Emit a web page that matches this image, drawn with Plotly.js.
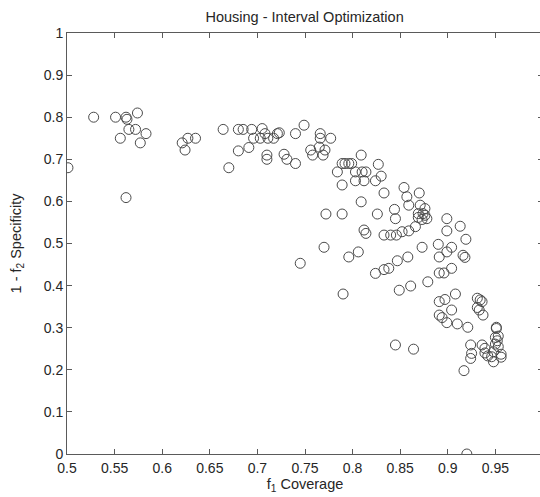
<!DOCTYPE html>
<html>
<head>
<meta charset="utf-8">
<script src="https://cdn.plot.ly/plotly-3.0.1.min.js"></script>
<style>
  html, body { margin: 0; padding: 0; overflow: hidden; background: #fff; }
  #chart { width: 548px; height: 497px; }
</style>
</head>
<body>
<div id="chart"></div>
<script>
// f1 coverage of each interval solution
const coverage = [
  0.501, 0.528, 0.551, 0.562, 0.563, 0.574, 0.556, 0.565, 0.572, 0.583,
  0.577, 0.562, 0.621, 0.627, 0.635, 0.624, 0.664, 0.670, 0.680, 0.680,
  0.685, 0.694, 0.691, 0.696, 0.703, 0.705, 0.708, 0.711, 0.717, 0.721,
  0.723, 0.710, 0.710, 0.728, 0.731, 0.740, 0.740, 0.749, 0.766, 0.766,
  0.777, 0.765, 0.756, 0.771, 0.758, 0.769,
  0.809, 0.827, 0.789, 0.792, 0.796, 0.799, 0.784, 0.803, 0.810, 0.814,
  0.830, 0.803, 0.812, 0.824, 0.789, 0.809, 0.833, 0.772, 0.789, 0.826,
  0.844, 0.845, 0.812, 0.814, 0.833, 0.840, 0.846, 0.854, 0.857, 0.870,
  0.859, 0.871, 0.876, 0.869, 0.874, 0.876, 0.878, 0.873, 0.869, 0.899,
  0.899, 0.866, 0.859, 0.852, 0.745, 0.770, 0.796, 0.806, 0.824, 0.833,
  0.838, 0.847, 0.858, 0.873, 0.890, 0.891, 0.899, 0.891, 0.896, 0.879,
  0.861, 0.849, 0.790,
  0.913, 0.919, 0.904, 0.916, 0.918, 0.904, 0.908, 0.891, 0.897, 0.904,
  0.891, 0.894, 0.899, 0.910, 0.921, 0.931, 0.934, 0.936, 0.931, 0.933,
  0.937, 0.951, 0.951, 0.950, 0.953, 0.952, 0.953, 0.950, 0.924, 0.936,
  0.939, 0.925, 0.924, 0.939, 0.942, 0.946, 0.948, 0.956, 0.956, 0.948,
  0.917, 0.845, 0.864, 0.920
];

// 1 - f2 specificity of the same solutions
const oneMinusSpecificity = [
  0.680, 0.800, 0.800, 0.800, 0.795, 0.810, 0.750, 0.771, 0.771, 0.761,
  0.739, 0.609, 0.739, 0.750, 0.750, 0.722, 0.771, 0.680, 0.720, 0.771,
  0.771, 0.771, 0.728, 0.750, 0.750, 0.773, 0.761, 0.750, 0.750, 0.761,
  0.763, 0.710, 0.700, 0.712, 0.700, 0.690, 0.761, 0.781, 0.761, 0.750,
  0.750, 0.729, 0.722, 0.722, 0.710, 0.710,
  0.710, 0.688, 0.690, 0.690, 0.690, 0.690, 0.670, 0.670, 0.670, 0.670,
  0.660, 0.649, 0.649, 0.649, 0.639, 0.599, 0.620, 0.570, 0.570, 0.570,
  0.581, 0.559, 0.532, 0.524, 0.520, 0.520, 0.520, 0.633, 0.611, 0.620,
  0.591, 0.591, 0.583, 0.571, 0.571, 0.567, 0.559, 0.557, 0.562, 0.559,
  0.530, 0.540, 0.530, 0.528, 0.453, 0.491, 0.468, 0.480, 0.429, 0.438,
  0.441, 0.459, 0.468, 0.491, 0.498, 0.468, 0.480, 0.430, 0.430, 0.409,
  0.399, 0.389, 0.380,
  0.541, 0.510, 0.491, 0.472, 0.467, 0.441, 0.380, 0.362, 0.367, 0.342,
  0.330, 0.324, 0.312, 0.309, 0.301, 0.370, 0.366, 0.362, 0.348, 0.342,
  0.330, 0.301, 0.298, 0.277, 0.280, 0.269, 0.255, 0.261, 0.259, 0.259,
  0.251, 0.239, 0.227, 0.240, 0.233, 0.231, 0.219, 0.237, 0.230, 0.243,
  0.198, 0.259, 0.249, 0.000
];

const xTicks = [0.5, 0.55, 0.6, 0.65, 0.7, 0.75, 0.8, 0.85, 0.9, 0.95];
const xTickText = ['0.5', '0.55', '0.6', '0.65', '0.7', '0.75', '0.8', '0.85', '0.9', '0.95'];
const yTicks = [0, 0.1, 0.2, 0.3, 0.4, 0.5, 0.6, 0.7, 0.8, 0.9, 1];
const yTickText = ['0', '0.1', '0.2', '0.3', '0.4', '0.5', '0.6', '0.7', '0.8', '0.9', '1'];

const textColor = '#262626';
const axisColor = '#5a5a5a';
const fontFamily = 'Liberation Sans, Arial, sans-serif';

const trace = {
  x: coverage,
  y: oneMinusSpecificity,
  type: 'scatter',
  mode: 'markers',
  marker: {
    symbol: 'circle-open',
    size: 10,
    color: '#4a4a4a',
    line: { width: 1, color: '#4a4a4a' }
  },
  hoverinfo: 'x+y'
};

const axisCommon = {
  showgrid: false,
  zeroline: false,
  showline: true,
  linecolor: axisColor,
  linewidth: 1,
  mirror: 'ticks',
  ticks: 'inside',
  ticklen: 5,
  tickwidth: 1,
  tickcolor: axisColor,
  tickfont: { family: fontFamily, size: 14, color: textColor },
  tickmode: 'array'
};

const layout = {
  width: 548,
  height: 497,
  margin: { l: 67, r: 5, t: 33, b: 43 },
  paper_bgcolor: '#ffffff',
  plot_bgcolor: '#ffffff',
  showlegend: false,
  font: { family: fontFamily, color: textColor },
  title: {
    text: 'Housing - Interval Optimization',
    font: { family: fontFamily, size: 14.5, color: textColor },
    x: 0.5558, xanchor: 'center',
    y: 0.966, yref: 'container', yanchor: 'middle'
  },
  xaxis: Object.assign({}, axisCommon, {
    range: [0.5, 1],
    tickvals: xTicks,
    ticktext: xTickText,
    ticklabelstandoff: 1,
    title: { text: 'f<sub>1</sub> Coverage', font: { family: fontFamily, size: 14.5, color: textColor }, standoff: 4 }
  }),
  yaxis: Object.assign({}, axisCommon, {
    range: [0, 1],
    tickvals: yTicks,
    ticktext: yTickText,
    title: { text: '1 - f<sub>2</sub> Specificity', font: { family: fontFamily, size: 14.5, color: textColor }, standoff: 18 }
  })
};

Plotly.newPlot('chart', [trace], layout, { displayModeBar: false, staticPlot: true });
</script>
</body>
</html>
